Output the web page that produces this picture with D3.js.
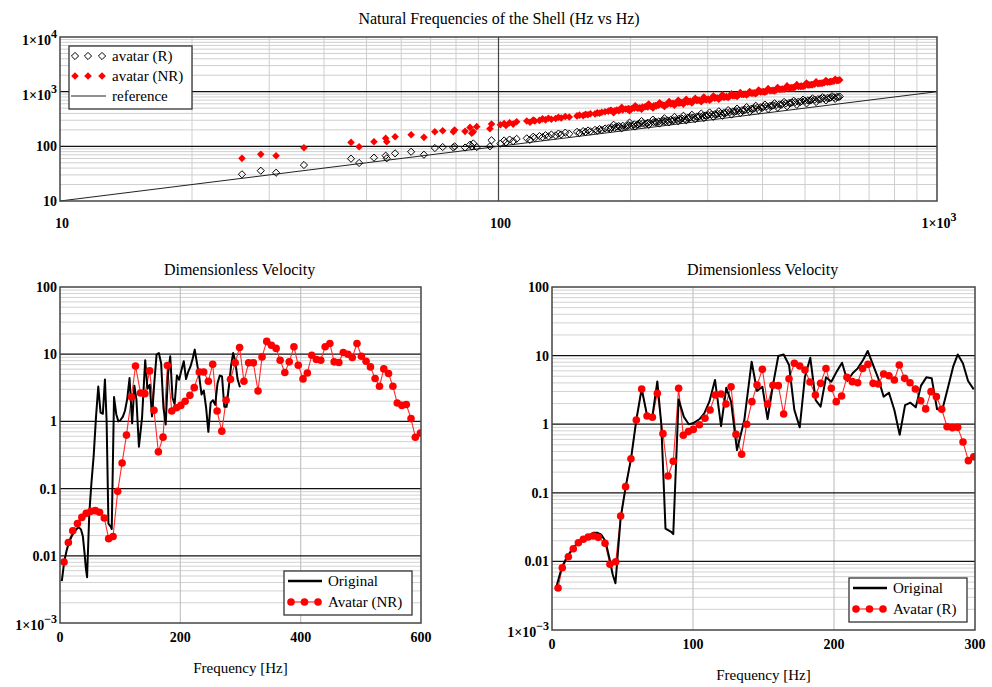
<!DOCTYPE html>
<html>
<head>
<meta charset="utf-8">
<script src="https://cdn.jsdelivr.net/npm/d3@7"></script>
<style>
  body { margin: 0; background: #fff; }
  text { font-family: "Liberation Serif", "Times New Roman", serif; fill: #000; }
  .tick { font-weight: bold; font-size: 14px; }
  .title { font-size: 16px; }
  .lab { font-size: 15px; }
</style>
</head>
<body>
<div id="chart"></div>
<script>

// ---- top chart: natural frequencies (reference Hz vs avatar Hz) ----
var natFreq = [26, 28.7, 31.1, 36, 46.1, 48.1, 52, 55.3, 55.6, 58.1, 63.2, 67.6, 71.6, 74.6, 78.9, 79.4, 83.9, 86.1, 86.9, 87.6, 89.2, 95.6, 96.4,
  101, 103, 104, 106, 108, 110, 116, 118, 120, 121, 124, 126, 128, 130, 132, 135, 137, 139, 142, 145, 151, 153, 156, 158, 160, 162, 166, 168, 170, 172, 175,
  178, 181, 184, 186, 189, 192, 195, 198, 201, 204, 207, 210, 213, 216, 219, 222, 226, 229, 232, 236, 240, 243, 247, 251, 255, 258, 262, 266, 270, 274, 278,
  283, 287, 292, 296, 301, 306, 311, 316, 321, 326, 331, 337, 342, 348, 353, 359, 365, 371, 377, 383, 389, 396, 402, 409, 416, 423, 430, 437, 444, 452, 460,
  467, 475, 483, 491, 500, 508, 517, 526, 535, 544, 553, 562, 572, 582, 591, 600,
  180, 188, 197, 208, 218, 228, 238, 249, 260, 272, 285, 298, 313, 328, 345, 362, 380, 399, 420, 441, 463, 488, 513, 540, 568, 595,
  183, 191, 199, 205, 212, 220, 225, 233, 239, 245, 252, 257, 264, 268, 276, 281, 290, 294, 303, 309, 318, 324, 334, 340, 350, 356,
  368, 374, 386, 392, 405, 412, 426, 433, 448, 455, 471, 479, 495, 504, 520, 530, 548, 558, 576, 586];

var avatarR = [30.8, 35.8, 32.9, 45.5, 59.4, 49.6, 62, 67.4, 60.3, 74.5, 79.6, 70.2, 93, 97, 95, 100, 95, 107, 99, 113, 97, 100, 129,
  112, 128, 118, 133, 124, 137, 140, 131, 150, 142, 154, 147, 160, 152, 164, 158, 171, 165, 178, 170, 184, 176, 190, 183, 195, 188, 200, 193, 206, 199, 212,
  215, 222, 218, 230, 226, 238, 232, 244, 240, 252, 248, 258, 262, 256, 270, 266, 278, 274, 285, 290, 286, 298, 304, 300, 312, 318, 322, 316, 332, 338, 335,
  348, 352, 358, 366, 372, 380, 386, 392, 402, 408, 415, 424, 432, 440, 448, 458, 466, 476, 485, 496, 505, 518, 528, 540, 550, 562, 574, 585, 596, 610, 622,
  632, 645, 656, 668, 682, 694, 706, 718, 730, 742, 754, 765, 778, 790, 800, 812,
  208, 235, 236, 252, 262, 282, 295, 294, 310, 328, 342, 360, 382, 400, 428, 450, 478, 505, 545, 575, 612, 648, 690, 720, 760, 795,
  248, 214, 272, 230, 290, 246, 308, 261, 326, 274, 345, 288, 362, 300, 378, 315, 398, 329, 416, 346, 438, 363, 460, 381, 490, 406,
  522, 430, 552, 455, 580, 482, 612, 511, 648, 541, 682, 575, 716, 610, 752, 647, 790, 692, 825, 738];

var avatarNR = [60.3, 71.3, 67.4, 94.5, 118, 98.5, 121, 140, 121, 150, 163, 146, 185, 193, 185, 199, 188, 222, 173, 185, 229, 210, 256,
  248, 262, 240, 270, 255, 282, 290, 275, 302, 292, 298, 318, 305, 327, 312, 322, 340, 330, 352, 345, 360, 372, 365, 385, 378, 395, 392, 410, 402, 420, 428,
  440, 452, 448, 462, 470, 465, 482, 490, 485, 500, 510, 505, 522, 530, 525, 545, 552, 548, 565, 575, 570, 590, 598, 612, 620, 615, 638, 645, 650, 668, 675,
  690, 698, 705, 722, 735, 742, 760, 768, 785, 792, 810, 822, 840, 852, 870, 885, 900, 918, 935, 950, 968, 985, 1000, 1022, 1040, 1058, 1080, 1098, 1120, 1145, 1168,
  1190, 1215, 1240, 1265, 1290, 1318, 1345, 1375, 1405, 1432, 1460, 1492, 1525, 1560, 1595, 1640,
  458, 448, 478, 498, 540, 560, 565, 605, 630, 660, 700, 712, 775, 800, 845, 892, 940, 995, 1050, 1110, 1175, 1250, 1330, 1420, 1510, 1610,
  412, 515, 448, 552, 476, 592, 505, 628, 536, 660, 565, 695, 592, 725, 620, 760, 652, 795, 695, 835, 730, 875, 780, 918, 818, 962,
  875, 1010, 918, 1070, 980, 1135, 1032, 1192, 1105, 1275, 1185, 1345, 1245, 1440, 1335, 1515, 1430, 1595, 1530, 1680];

var refFreq = [10, 20, 50, 100, 200, 500, 1000];
var refVal  = [10, 20, 50, 100, 200, 500, 1000];

// ---- bottom charts: dimensionless velocity ----
var origFreq = [3, 7, 11, 15, 19, 22, 26, 29.5, 32, 35, 38, 41, 43, 45, 48.7, 52.2, 56, 59.8, 63.6, 67.4, 71.2, 74.7, 77.5, 80.5, 84.5, 86,
  89.8, 93.5, 97, 100, 104.5, 108, 111.6, 115.6, 119.9, 123.6, 127, 131.2, 136.4, 141.6, 145.4, 149.2, 152.9, 156.7, 160.5, 164.3, 168.1, 171.9,
  175.7, 179.4, 183.2, 187, 190.5, 194.3, 198.1, 201.9, 205.7, 209.5, 213.2, 216.8, 220.6, 223.9, 227.7, 231.4, 235.2, 239, 242.8, 246.6, 250.4,
  254.2, 258, 261.7, 265.5, 269.3, 273.1, 276.9, 280.7, 284.5, 287.8, 291.4, 295.1, 299.1];
var origVel = [0.0042, 0.0082, 0.012, 0.0158, 0.0192, 0.0215, 0.0238, 0.0262, 0.0262, 0.0245, 0.0195, 0.0105, 0.0065, 0.0048, 0.043, 0.12, 0.31, 1.15, 3.3, 1.35, 1.3, 4.2, 1.0, 0.03, 0.027, 0.025,
  2.3, 1.28, 1.0, 1.03, 1.18, 1.44, 2.13, 4.41, 0.94, 3.4, 2.13, 0.42, 1.15, 8.15, 3.05, 3.52, 1.19, 3.72, 9.87, 10.4, 7.3, 1.61,
  0.9, 4.93, 9.3, 2.25, 1.8, 4.82, 4.17, 5.84, 7.88, 4.27, 5.52, 6.52, 8.63, 11.7, 7.3, 4.66, 2.52, 2.88, 1.61, 0.70, 1.9,
  2.06, 1.76, 3.65, 4.82, 4.66, 1.65, 1.65, 3.33, 6.89, 10.4, 7.72, 4.27, 3.22];

var nrFreq = [6.7, 13.9, 21.2, 29, 36.3, 43.5, 51.3, 58.6, 65.8, 73.6, 80.9, 88.2, 95.9, 103.2, 110.5, 118.8, 125.5, 133.9, 141.1, 149, 156.2, 163.5,
  171.3, 178.5, 185.8, 193.6, 200.8, 208, 215.9, 223.1, 231.5, 238.8, 246.6, 253.8, 261.1, 268.9, 276.1, 283.4, 291.2, 298.5, 305.7, 313.5, 321.3,
  329.1, 335.8, 343.6, 351.4, 359.2, 365.9, 373.7, 381, 388.8, 396, 403.9, 411.1, 418.4, 426.2, 433.4, 440.7, 448.5, 455.7, 463.5, 470.8, 478.6,
  485.8, 493.6, 500.9, 508.7, 516, 523.7, 531, 538.2, 546, 553.3, 560.5, 568.3, 575.6, 583.4, 590.6, 599];
var nrVel = [0.0081, 0.0158, 0.0236, 0.0303, 0.0373, 0.0428, 0.0459, 0.047, 0.0444, 0.0366, 0.018, 0.0194, 0.091, 0.241, 0.625, 2.31, 6.68, 2.64, 2.59, 5.64, 1.46, 0.352,
  0.583, 6.78, 1.43, 1.6, 1.73, 1.99, 2.44, 3.18, 5.44, 5.44, 3.95, 7.1, 1.43, 0.716, 2.06, 4.24, 7.43, 12.6, 3.95, 7.43, 7.43,
  2.84, 9.12, 15.5, 13.6, 12.2, 8.13, 5.33, 7.69, 12.9, 6.85, 4.29, 5.26, 9.66, 8.32, 8.13, 12.9, 14.4, 7.69, 7.52, 10.6, 10,
  8.93, 14.4, 9.33, 7.87, 6.47, 4.34, 3.33, 6.04, 5.15, 3.33, 1.88, 1.73, 1.78, 1.1, 0.58, 0.67];

var rFreq = [4.3, 7.3, 11.6, 15.1, 18.7, 22.2, 25.7, 29.3, 32.8, 37.6, 41.1, 45.2, 48.7, 52.2, 56, 59.8, 63.6, 67.4, 71.2, 74.7, 78.7, 82.3, 86, 89.8,
  93.1, 96.7, 100.2, 104.5, 108.5, 112.1, 115.8, 119.9, 123.4, 127, 130.5, 134.5, 138.1, 141.8, 145.4, 149.2, 152.9, 156.7, 160.5, 164.3, 168.1,
  171.9, 175.7, 179.4, 183, 186.8, 190.5, 194.3, 198.1, 201.6, 205.4, 209.2, 213, 216.8, 220.3, 224.1, 227.7, 231.4, 235.2, 239, 242.8, 246.3,
  250.1, 253.9, 257.7, 261.5, 265, 268.8, 272.6, 276.4, 280.2, 284, 287.7, 291.5, 295.3, 299.1];
var rVel = [0.0041, 0.0081, 0.0117, 0.0153, 0.0187, 0.021, 0.0227, 0.0234, 0.0224, 0.0184, 0.0091, 0.0099, 0.0459, 0.123, 0.314, 1.15, 3.26, 1.32, 1.26, 2.82, 0.728, 0.176, 0.288, 3.33,
  0.69, 0.78, 0.84, 0.98, 1.22, 1.61, 2.67, 2.76, 1.97, 3.52, 0.71, 0.364, 1.0, 2.13, 3.72, 6.3, 1.97, 3.69, 3.65, 1.41, 4.6,
  7.72, 7.05, 6.17, 4.12, 2.67, 3.94, 6.5, 3.33, 2.13, 2.58, 4.82, 4.17, 4.03, 6.5, 7.46, 3.94, 3.85, 5.38, 5.09, 4.41, 7.3,
  4.66, 4.03, 3.26, 2.2, 1.67, 2.98, 2.52, 1.65, 0.92, 0.89, 0.90, 0.55, 0.294, 0.336];

// tick labels
var topXTicks = [10, 100, 1000];
var topYTicks = [10, 100, 1000, 10000];
var velTicks = [0.001, 0.01, 0.1, 1, 10, 100];
var leftXTicks = [0, 200, 400, 600];
var rightXTicks = [0, 100, 200, 300];

var svg = d3.select('#chart').append('svg')
    .attr('width', 992)
    .attr('height', 687);

// label like "1×10^3" for powers >= 1000 or < 0.01
function tickText(sel, v) {
    var e = Math.round(Math.log10(v));
    if (e >= 3 || e <= -3) {
        sel.append('tspan').text('1×10');
        sel.append('tspan').attr('dy', -7).attr('font-size', 12).text(e < 0 ? '\u2212' + (-e) : e);
        return true;
    }
    sel.text(d3.format('~g')(v));
    return false;
}

function minorValues(lo, hi) {
    var out = [];
    for (var d = lo; d < hi; d *= 10)
        for (var k = 2; k <= 9; k++) out.push(d * k);
    return out;
}

var diamond = function (r) { return 'M0,' + (-r) + 'L' + r + ',0L0,' + r + 'L' + (-r) + ',0Z'; };

// ================= TOP CHART =================
var tx = d3.scaleLog().domain([10, 1000]).range([60, 937]);
var ty = d3.scaleLog().domain([10, 10000]).range([201, 37]);
var topG = svg.append('g');

topG.selectAll('.vmin').data(minorValues(10, 1000).filter(function (v) { return v !== 100; }))
    .enter().append('line')
    .attr('x1', function (d) { return tx(d); }).attr('x2', function (d) { return tx(d); })
    .attr('y1', 37).attr('y2', 201)
    .attr('stroke', '#cfcfcf').attr('stroke-width', 1);
topG.selectAll('.hmin').data(minorValues(10, 10000))
    .enter().append('line')
    .attr('y1', function (d) { return ty(d); }).attr('y2', function (d) { return ty(d); })
    .attr('x1', 60).attr('x2', 937)
    .attr('stroke', '#cfcfcf').attr('stroke-width', 1);
topG.append('line').attr('x1', tx(100)).attr('x2', tx(100)).attr('y1', 37).attr('y2', 201)
    .attr('stroke', '#444').attr('stroke-width', 1.2);
topG.selectAll('.hmaj').data([100, 1000]).enter().append('line')
    .attr('y1', function (d) { return ty(d); }).attr('y2', function (d) { return ty(d); })
    .attr('x1', 60).attr('x2', 937)
    .attr('stroke', '#111').attr('stroke-width', 1.2);

// reference line
topG.append('path')
    .datum(d3.zip(refFreq, refVal))
    .attr('fill', 'none').attr('stroke', '#222').attr('stroke-width', 1)
    .attr('d', d3.line().x(function (d) { return tx(d[0]); }).y(function (d) { return ty(d[1]); }));

var nat = natFreq.map(function (f, i) { return { f: f, r: avatarR[i], nr: avatarNR[i] }; });

topG.selectAll('.rpt').data(nat).enter().append('path')
    .attr('d', diamond(3.6))
    .attr('transform', function (d) { return 'translate(' + tx(d.f) + ',' + ty(d.r) + ')'; })
    .attr('fill', 'none').attr('stroke', '#000').attr('stroke-width', 1);
topG.selectAll('.nrpt').data(nat).enter().append('path')
    .attr('d', diamond(3.8))
    .attr('transform', function (d) { return 'translate(' + tx(d.f) + ',' + ty(d.nr) + ')'; })
    .attr('fill', '#ff0000');

topG.append('rect').attr('x', 60).attr('y', 37).attr('width', 877).attr('height', 164)
    .attr('fill', 'none').attr('stroke', '#444').attr('stroke-width', 1.5);

// legend
var tl = topG.append('g');
tl.append('rect').attr('x', 69).attr('y', 46).attr('width', 123).attr('height', 63)
    .attr('fill', '#fff').attr('stroke', '#333').attr('stroke-width', 1.3);
[75, 88, 102].forEach(function (x) {
    tl.append('path').attr('d', diamond(3.6)).attr('transform', 'translate(' + x + ',56)')
        .attr('fill', 'none').attr('stroke', '#000');
    tl.append('path').attr('d', diamond(3.8)).attr('transform', 'translate(' + x + ',76)')
        .attr('fill', '#ff0000');
});
tl.append('line').attr('x1', 71).attr('x2', 106).attr('y1', 96).attr('y2', 96).attr('stroke', '#222');
tl.append('text').attr('class', 'lab').attr('x', 112).attr('y', 61).text('avatar (R)');
tl.append('text').attr('class', 'lab').attr('x', 112).attr('y', 81).text('avatar (NR)');
tl.append('text').attr('class', 'lab').attr('x', 112).attr('y', 101).text('reference');

topG.append('text').attr('class', 'title').attr('x', 499).attr('y', 24).attr('text-anchor', 'middle')
    .text('Natural Frequencies of the Shell (Hz vs Hz)');

topG.selectAll('.ylab').data(topYTicks).enter().append('text')
    .attr('class', 'tick').attr('text-anchor', 'end').attr('x', 57)
    .attr('y', function (d) { return ty(d) + (d >= 1000 ? 8 : 5); })
    .each(function (d) { tickText(d3.select(this), d); });
topG.selectAll('.xlab').data(topXTicks).enter().append('text')
    .attr('class', 'tick').attr('text-anchor', 'middle')
    .attr('x', function (d) { return tx(d) + 2; })
    .attr('y', 228)
    .each(function (d) { tickText(d3.select(this), d); });

// ================= BOTTOM CHARTS =================
function velPanel(opt) {
    var x = d3.scaleLinear().domain(opt.xDomain).range([opt.x0, opt.x1]);
    var y = d3.scaleLog().domain([0.001, 100]).range([opt.y1, opt.y0]);
    var g = svg.append('g');
    var clipId = 'clip' + opt.x0;
    g.append('clipPath').attr('id', clipId).append('rect')
        .attr('x', opt.x0).attr('y', opt.y0).attr('width', opt.x1 - opt.x0).attr('height', opt.y1 - opt.y0);

    g.selectAll('.hmin').data(minorValues(0.001, 100)).enter().append('line')
        .attr('y1', function (d) { return y(d); }).attr('y2', function (d) { return y(d); })
        .attr('x1', opt.x0).attr('x2', opt.x1)
        .attr('stroke', '#d2d2d2').attr('stroke-width', 1);
    g.selectAll('.vgrid').data(opt.xTicks.slice(1, -1)).enter().append('line')
        .attr('x1', function (d) { return x(d); }).attr('x2', function (d) { return x(d); })
        .attr('y1', opt.y0).attr('y2', opt.y1)
        .attr('stroke', '#c4c4c4').attr('stroke-width', 1.2);
    g.selectAll('.hmaj').data(velTicks.slice(1, -1)).enter().append('line')
        .attr('y1', function (d) { return y(d); }).attr('y2', function (d) { return y(d); })
        .attr('x1', opt.x0).attr('x2', opt.x1)
        .attr('stroke', '#111').attr('stroke-width', 1.2);

    var plot = g.append('g').attr('clip-path', 'url(#' + clipId + ')');
    var line = d3.line().x(function (d) { return x(d[0]); }).y(function (d) { return y(d[1]); });

    plot.append('path').datum(d3.zip(opt.avF, opt.avV))
        .attr('fill', 'none').attr('stroke', '#ff2a2a').attr('stroke-width', 1.1).attr('d', line);
    plot.append('path').datum(d3.zip(origFreq, origVel))
        .attr('fill', 'none').attr('stroke', '#000').attr('stroke-width', 2).attr('stroke-linejoin', 'round').attr('d', line);
    plot.selectAll('.pt').data(d3.zip(opt.avF, opt.avV)).enter().append('circle')
        .attr('cx', function (d) { return x(d[0]); }).attr('cy', function (d) { return y(d[1]); })
        .attr('r', 3.8).attr('fill', '#ff0000');

    g.append('rect').attr('x', opt.x0).attr('y', opt.y0).attr('width', opt.x1 - opt.x0).attr('height', opt.y1 - opt.y0)
        .attr('fill', 'none').attr('stroke', '#444').attr('stroke-width', 1.5);

    // legend
    var L = opt.leg;
    g.append('rect').attr('x', L.x).attr('y', L.y).attr('width', L.w).attr('height', 44)
        .attr('fill', '#fff').attr('stroke', '#333').attr('stroke-width', 1.3);
    g.append('line').attr('x1', L.x + 4).attr('x2', L.x + 38).attr('y1', L.y + 10).attr('y2', L.y + 10)
        .attr('stroke', '#000').attr('stroke-width', 2.5);
    g.append('line').attr('x1', L.x + 7).attr('x2', L.x + 34).attr('y1', L.y + 31).attr('y2', L.y + 31)
        .attr('stroke', '#ff2a2a').attr('stroke-width', 1.2);
    [7, 20.5, 34].forEach(function (dx) {
        g.append('circle').attr('cx', L.x + dx).attr('cy', L.y + 31).attr('r', 3.8).attr('fill', '#ff0000');
    });
    g.append('text').attr('class', 'lab').attr('x', L.x + 44).attr('y', L.y + 15).text('Original');
    g.append('text').attr('class', 'lab').attr('x', L.x + 44).attr('y', L.y + 36).text(opt.avName);

    // text
    g.append('text').attr('class', 'title').attr('text-anchor', 'middle')
        .attr('x', (opt.x0 + opt.x1) / 2 - 1).attr('y', 275).text('Dimensionless Velocity');
    g.append('text').attr('class', 'lab').attr('text-anchor', 'middle')
        .attr('x', (opt.x0 + opt.x1) / 2).attr('y', opt.y1 + 50).text('Frequency [Hz]');
    g.selectAll('.xl').data(opt.xTicks).enter().append('text')
        .attr('class', 'tick').attr('text-anchor', 'middle')
        .attr('x', function (d) { return x(d); }).attr('y', opt.y1 + 19)
        .text(function (d) { return d; });
    g.selectAll('.yl').data(velTicks).enter().append('text')
        .attr('class', 'tick').attr('text-anchor', 'end')
        .attr('x', opt.x0 - 3)
        .attr('y', function (d) { return y(d) + (d < 0.005 ? 7 : 5); })
        .each(function (d) { tickText(d3.select(this), d); });
}

velPanel({ x0: 60, x1: 421, y0: 287, y1: 623, xDomain: [0, 600], xTicks: leftXTicks,
    avF: nrFreq, avV: nrVel, avName: 'Avatar (NR)', leg: { x: 284, y: 571, w: 128 } });
velPanel({ x0: 552, x1: 975, y0: 287, y1: 630, xDomain: [0, 300], xTicks: rightXTicks,
    avF: rFreq, avV: rVel, avName: 'Avatar (R)', leg: { x: 849, y: 578, w: 118 } });

</script>
</body>
</html>
